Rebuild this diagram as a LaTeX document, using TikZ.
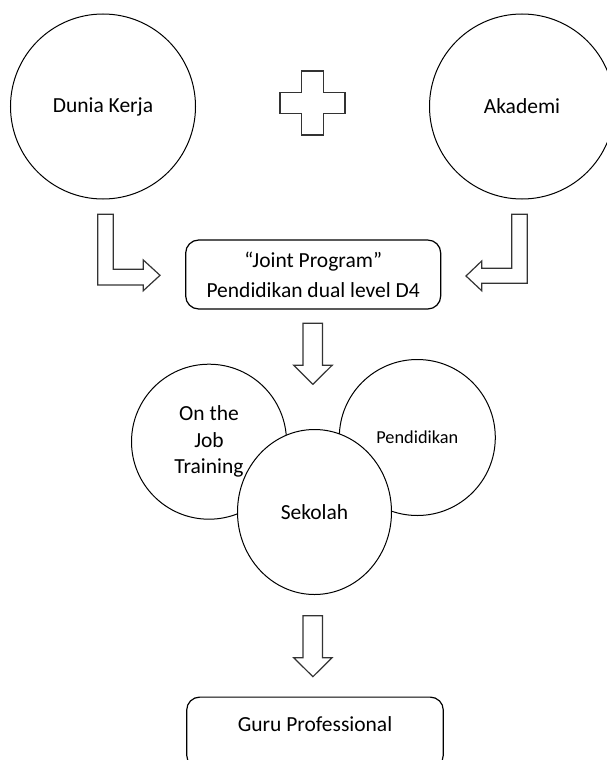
\documentclass[tikz,border=0pt]{standalone}
\usepackage{fontspec}
\setmainfont{Carlito}
\usetikzlibrary{shapes.geometric}
\begin{document}
\begin{tikzpicture}[x=1pt,y=-1pt,font=\fontsize{21.5}{26.5}\selectfont,
    bulat/.style={draw,circle,line width=1pt,align=center,fill=white},
    kotak/.style={draw,rounded corners=13pt,line width=1.2pt,align=center},
    panah/.style={draw=black!80,line width=1.2pt,line join=miter}]
            \useasboundingbox (0,0) rectangle (606,760);
            \def\besar{185pt}
            \def\kecil{155pt}

            \node[bulat,minimum size=\besar] (dunia) at (103,106.5) {Dunia Kerja};
            \node[bulat,minimum size=\besar] (akademi) at (522,106.5) {Akademi};

            \draw[panah] (301.75,71) -- (323.25,71) -- (323.25,92.25) -- (345,92.25) -- (345,113.75) -- (323.25,113.75) -- (323.25,135) -- (301.75,135) -- (301.75,113.75) -- (280,113.75) -- (280,92.25) -- (301.75,92.25) -- cycle;

            \node[kotak,minimum width=255pt,minimum height=69pt,font=\fontsize{21.5}{29.7}\selectfont] (joint) at (313.2,274.5) {“Joint Program”\\Pendidikan dual level D4};

            \draw[panah] (97.7,214.3) -- (113.3,214.3) -- (113.3,269.3) -- (143.3,269.3) -- (143.3,260) -- (160,275.3) -- (143.3,290.7) -- (143.3,285) -- (97.7,285) -- cycle;
            \draw[panah] (511.7,214.3) -- (527.3,214.3) -- (527.3,283.3) -- (481.7,283.3) -- (481.7,290.7) -- (466,276) -- (481.7,261) -- (481.7,268.3) -- (511.7,268.3) -- cycle;

            \foreach \y in {323.3,615.7}
                \draw[panah] (303,\y) -- ++(19.5,0) -- ++(0,42) -- ++(9.6,0) -- ++(-19.2,19) -- ++(-19.2,-19) -- ++(9.3,0) -- cycle;

            \node[bulat,minimum size=\kecil] (ojt) at (209,441.7) {On the\\Job\\Training};
            \node[bulat,minimum size=156pt,font=\fontsize{18.3}{22}\selectfont] (pendidikan) at (417.3,437.5) {Pendidikan};
            \node[bulat,ellipse,minimum width=154pt,minimum height=165pt] (sekolah) at (314.5,512) {Sekolah};

            \node[kotak,minimum width=256.6pt,minimum height=71pt,text height=14pt,text depth=16pt] (guru) at (315,732.6) {Guru Professional};
        \end{tikzpicture}
\end{document}
